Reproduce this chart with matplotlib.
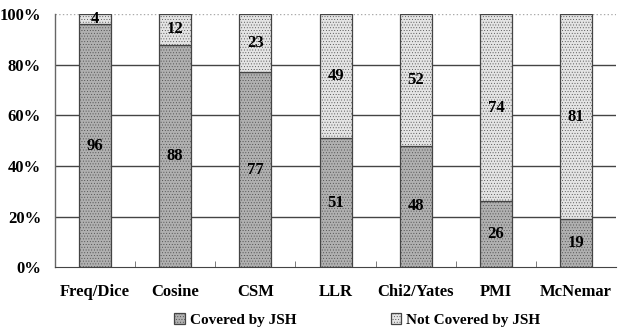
import numpy as np
import matplotlib as mpl
mpl.use("Agg")
import matplotlib.pyplot as plt

methods = ["Freq/Dice", "Cosine", "CSM", "LLR", "Chi2/Yates", "PMI", "McNemar"]
covered = [96, 88, 77, 51, 48, 26, 19]
not_covered = [4, 12, 23, 49, 52, 74, 81]

plt.rcParams["font.family"] = ["Liberation Serif", "DejaVu Serif"]
plt.rcParams["font.weight"] = "bold"
plt.rcParams["hatch.linewidth"] = 0.3

fig = plt.figure(figsize=(6.18, 3.29), dpi=100)
ax = fig.add_axes([0.089, 0.188, 0.908, 0.769])

x = np.arange(len(methods))
w = 0.4
plt.rcParams["hatch.color"] = "#959595"
b1 = ax.bar(x, covered, w, color="#b0b0b0", edgecolor="#444444", linewidth=0.9,
            hatch="......", label="Covered by JSH", zorder=3)
plt.rcParams["hatch.color"] = "#cfcfcf"
b2 = ax.bar(x, not_covered, w, bottom=covered, color="#e4e4e4", edgecolor="#444444",
            linewidth=0.9, hatch="......", label="Not Covered by JSH", zorder=3)

for i in range(len(methods)):
    ax.text(x[i], covered[i] / 2, str(covered[i]), ha="center", va="center",
            fontsize=12, fontweight="bold", zorder=4)
    ax.text(x[i], covered[i] + not_covered[i] / 2, str(not_covered[i]), ha="center",
            va="center", fontsize=12, fontweight="bold", zorder=4)

ax.set_xlim(-0.5, len(methods) - 0.5)
ax.set_ylim(0, 100)
ax.set_yticks([0, 20, 40, 60, 80, 100])
ax.set_yticklabels(["0%", "20%", "40%", "60%", "80%", "100%"], fontsize=12, fontweight="bold")
for yv in [20, 40, 60, 80]:
    ax.axhline(yv, color="#444444", linewidth=1.0, zorder=1)
ax.axhline(100, color="#aaaaaa", linewidth=1.0, linestyle=":", zorder=1)

ax.set_xticks(x)
ax.set_xticklabels(methods, fontsize=12, fontweight="bold")
ax.set_xticks(np.arange(0.5, len(methods) - 0.5), minor=True)
ax.tick_params(axis="x", which="major", length=0, pad=12)
ax.tick_params(axis="x", which="minor", direction="in", length=4, color="#666666")
ax.tick_params(axis="y", length=0, pad=10)

for s in ["top", "right"]:
    ax.spines[s].set_visible(False)
ax.spines["left"].set_color("#666666")
ax.spines["bottom"].set_color("#444444")
ax.spines["left"].set_linewidth(1.0)

fig.legend(handles=[b1, b2], loc="lower center", bbox_to_anchor=(0.578, -0.035), ncol=2,
           frameon=False, prop={"weight": "bold", "size": 11},
           handlelength=0.7, handleheight=0.7, handletextpad=0.3, columnspacing=6.2)

fig.savefig("out.png", dpi=100)
